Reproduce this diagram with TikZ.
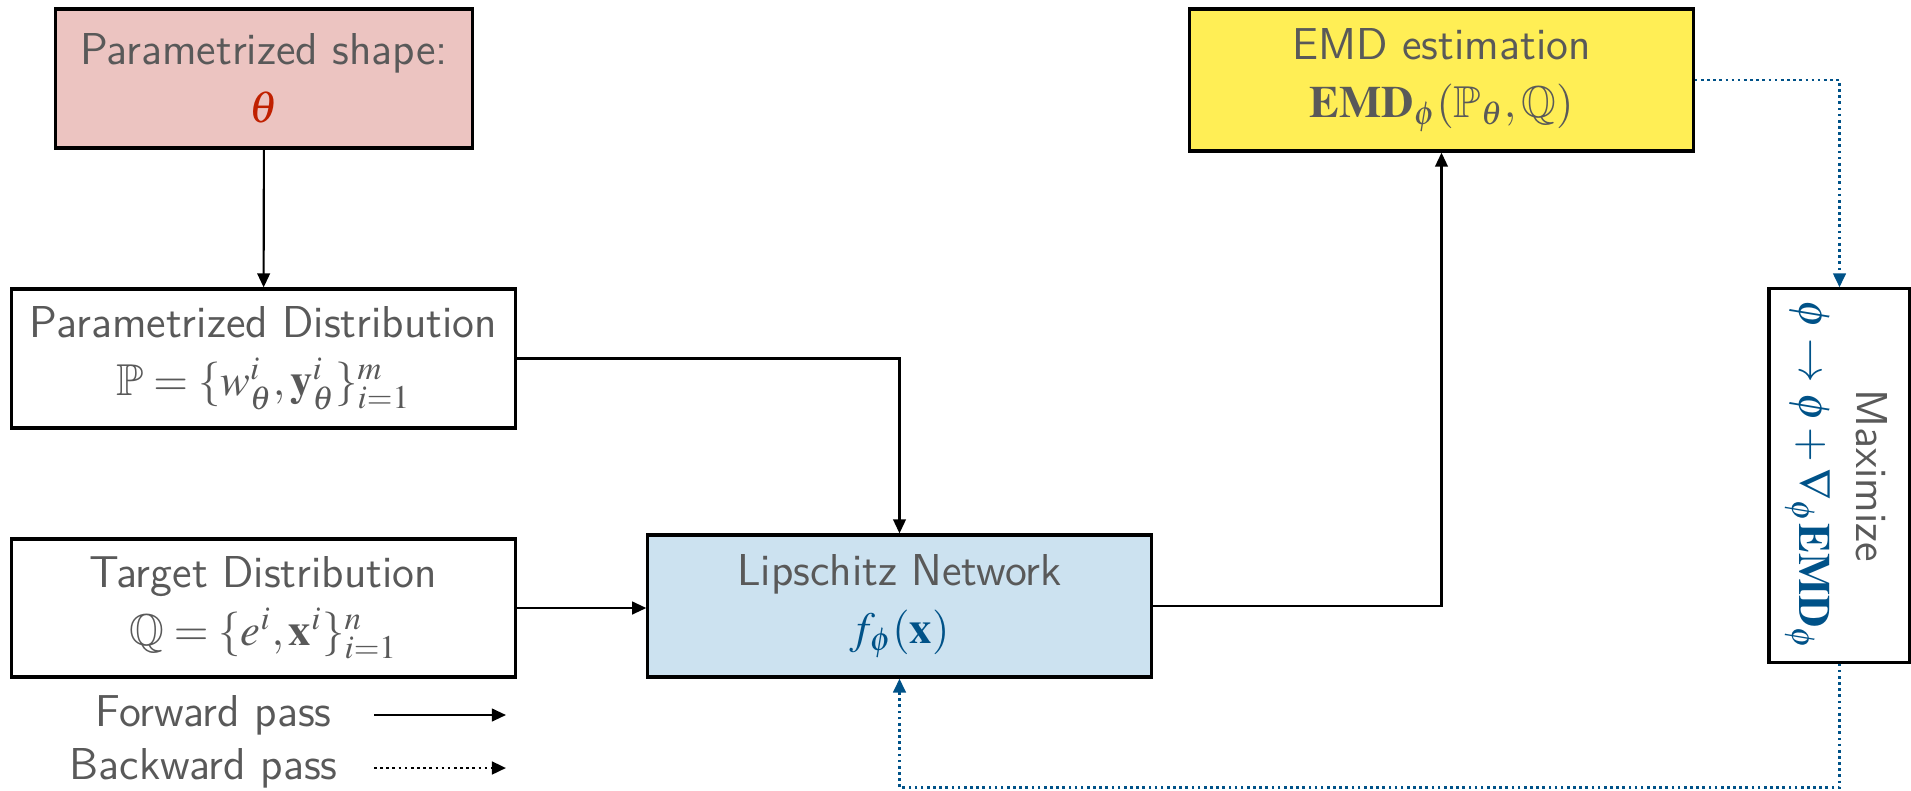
\documentclass[tikz,border=0pt]{standalone}
\usepackage{mathptmx}
\usepackage{amsmath,amssymb}
\usetikzlibrary{arrows.meta}
\definecolor{txtgray}{RGB}{89,89,89}
\definecolor{shapepink}{RGB}{236,196,193}
\definecolor{thetared}{RGB}{192,32,0}
\definecolor{lipblue}{RGB}{204,226,240}
\definecolor{mathblue}{RGB}{0,82,136}
\definecolor{emdyellow}{RGB}{255,238,85}
\newcommand{\boxfont}{\sffamily\fontsize{12.7}{16.4}\selectfont}
\begin{document}
\begin{tikzpicture}[x=0.01cm, y=-0.01cm,
  box/.style={draw=black, line width=0.9pt, align=center, inner sep=0pt, text=txtgray, font=\boxfont},
  fwd/.style={line width=0.6pt, -{Triangle[length=4pt,width=3.6pt]}},
  bwd/.style={draw=mathblue, line width=0.75pt, densely dotted, -{Triangle[length=4pt,width=3.6pt]}}]
\useasboundingbox (0,0) rectangle (1911,790);
% blocks
\node[box, fill=shapepink, minimum width=4.16cm, minimum height=1.39cm] (shape) at (264,78.5) {Parametrized shape:\\ $\color{thetared}\theta$};
\node[box, minimum width=5.03cm, minimum height=1.39cm] (param) at (263.5,358.5) {Parametrized Distribution\\ $\mathbb{P}=\{w_\theta^i,\mathbf{y}_\theta^i\}_{i=1}^m$};
\node[box, minimum width=5.03cm, minimum height=1.38cm] (target) at (263.5,608) {Target Distribution\\ $\mathbb{Q}=\{e^i,\mathbf{x}^i\}_{i=1}^n$};
\node[box, fill=lipblue, minimum width=5.03cm, minimum height=1.42cm] (lip) at (899.5,606) {Lipschitz Network\\ $\color{mathblue}f_\phi(\mathbf{x})$};
\node[box, fill=emdyellow, minimum width=5.03cm, minimum height=1.42cm] (emd) at (1441.5,80) {EMD estimation\\ $\mathbf{EMD}_\phi(\mathbb{P}_\theta,\mathbb{Q})$};
\node[box, minimum width=1.41cm, minimum height=3.73cm] (max) at (1839.5,475.5) {\rotatebox{-90}{\begin{tabular}{@{}c@{}}Maximize\\ $\color{mathblue}\boldsymbol{\phi}\rightarrow\boldsymbol{\phi}+\nabla_{\boldsymbol{\phi}}\mathbf{EMD}_{\boldsymbol{\phi}}$\end{tabular}}};
% forward pass
\draw[fwd] (shape) -- (param);
\draw[fwd] (param.east) -| (lip.north);
\draw[fwd] (target.east) -- (target.east -| lip.west);
\draw[fwd] (lip.east) -| (emd.south);
% backward pass
\draw[bwd] (emd.east) -| (max.north);
\draw[bwd] (max.south) -- ++(0,124) -| (lip.south);
% legend
\node[anchor=east, text=txtgray, font=\boxfont] (fwdtxt) at (344,715) {Forward pass};
\node[anchor=east, text=txtgray, font=\boxfont] (bwdtxt) at (350,768) {Backward pass};
\coordinate (fwdA) at (374,715);
\coordinate (fwdB) at (506,715);
\coordinate (bwdA) at (374,768);
\coordinate (bwdB) at (506,768);
\draw[fwd] (fwdA) -- (fwdB);
\draw[bwd, draw=black] (bwdA) -- (bwdB);
\end{tikzpicture}
\end{document}
